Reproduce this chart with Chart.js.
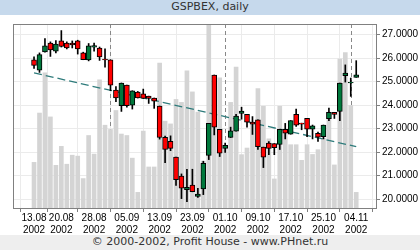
<!DOCTYPE html>
<html>
<head>
<meta charset="utf-8">
<script src="https://cdn.jsdelivr.net/npm/chart.js@4"></script>
<style>
  body { margin: 0; background: #fff; }
  #wrap { width: 420px; height: 250px; position: relative; }
  .band { height: 15px; line-height: 15px; text-align: center; font: 11px 'DejaVu Sans', sans-serif; color: #333; }
  #title { background: #c6d9ec; }
  #footer { background: #eeeeee; }
</style>
</head>
<body>
<div id="wrap">
  <div id="title" class="band">GSPBEX, daily</div>
  <canvas id="candleChart" width="420" height="220"></canvas>
  <div id="footer" class="band">© 2000-2002, Profit House - www.PHnet.ru</div>
</div>
<script>
var dates = ['13.08', '14.08', '15.08', '16.08', '19.08', '20.08', '21.08', '22.08', '23.08', '26.08',
    '27.08', '28.08', '29.08', '30.08', '02.09', '03.09', '04.09', '05.09', '06.09', '09.09',
    '10.09', '11.09', '12.09', '13.09', '16.09', '17.09', '18.09', '19.09', '20.09', '23.09',
    '24.09', '25.09', '26.09', '27.09', '30.09', '01.10', '02.10', '03.10', '04.10', '07.10',
    '08.10', '09.10', '10.10', '11.10', '14.10', '15.10', '16.10', '17.10', '18.10', '21.10',
    '22.10', '23.10', '24.10', '25.10', '28.10', '29.10', '30.10', '31.10', '01.11', '04.11'];

var tickDates = ['13.08', '20.08', '28.08', '05.09', '13.09', '23.09', '01.10', '09.10', '17.10', '25.10', '04.11'];
var monthStarts = ['02.09', '01.10', '01.11'];
var yTicks = [20, 21, 22, 23, 24, 25, 26, 27];

var opens = [25.92, 25.48, 26.26, 26.64, 26.29, 26.73, 26.64, 26.64, 26.73, 26.22,
    25.92, 26.46, 26.43, 25.96, 25.92, 24.64, 23.97, 24.85, 24.00, 24.55,
    24.48, 24.38, 24.30, 23.96, 22.63, 22.46, 21.79, 20.98, 20.40, 20.60,
    20.11, 20.43, 21.86, 25.28, 22.97, 22.16, 22.62, 22.89, 23.64, 23.61,
    23.27, 23.37, 22.21, 22.38, 22.36, 22.33, 22.97, 22.76, 23.61, 23.23,
    23.44, 22.97, 22.80, 22.66, 23.42, 23.69, 23.73, 25.25, 24.94, 25.18];
var highs = [26.05, 26.22, 26.83, 26.69, 26.74, 27.17, 26.69, 26.73, 26.76, 26.25,
    26.62, 26.64, 26.47, 26.39, 25.92, 24.79, 24.94, 24.85, 24.61, 24.58,
    24.68, 24.38, 24.30, 23.96, 22.68, 22.69, 21.79, 21.07, 21.27, 21.27,
    20.46, 21.61, 23.22, 25.28, 22.97, 22.38, 23.06, 23.61, 23.91, 23.61,
    23.51, 23.37, 22.21, 22.45, 22.36, 22.97, 23.22, 23.34, 23.83, 23.23,
    23.44, 23.15, 22.85, 23.15, 23.87, 23.69, 24.94, 25.71, 25.15, 25.89];
var lows = [25.56, 25.39, 26.25, 26.07, 26.22, 26.47, 26.39, 26.43, 26.17, 25.93,
    25.88, 26.29, 25.90, 25.61, 24.61, 24.15, 23.73, 23.91, 23.83, 24.30,
    24.28, 24.07, 23.86, 22.55, 21.55, 22.06, 20.58, 20.02, 19.89, 20.31,
    20.07, 20.19, 21.68, 22.73, 21.81, 21.99, 22.62, 22.89, 23.40, 23.06,
    22.75, 22.11, 21.34, 21.89, 21.89, 22.11, 22.56, 22.76, 23.09, 22.95,
    22.66, 22.56, 22.45, 22.56, 23.34, 23.43, 23.34, 24.98, 24.37, 25.18];
var closes = [25.69, 26.15, 26.52, 26.35, 26.60, 26.50, 26.43, 26.56, 26.39, 25.93,
    26.52, 26.53, 26.05, 25.92, 24.85, 24.30, 24.94, 23.97, 24.61, 24.30,
    24.28, 24.28, 24.17, 22.62, 22.11, 22.16, 20.83, 20.46, 20.50, 20.31,
    20.21, 21.52, 23.22, 23.06, 21.95, 22.29, 22.90, 23.53, 23.74, 23.27,
    23.19, 22.23, 21.78, 22.16, 22.19, 22.97, 22.80, 23.34, 23.14, 23.19,
    22.97, 23.12, 22.63, 23.15, 23.69, 23.60, 24.94, 25.36, 24.97, 25.29];
var volumes = [24.8, 51.6, 73.4, 49.5, 23.2, 33.5, 23.8, 28.7, 28.2, 16.0,
    39.4, 29.3, 69.7, 45.0, 42.7, 53.0, 40.2, 39.4, 27.1, 8.5,
    41.8, 22.3, 22.3, 78.7, 47.2, 45.7, 59.0, 57.4, 74.5, 63.1,
    52.1, 25.5, 115.0, 70.6, 70.7, 32.6, 57.4, 76.6, 29.0, 32.6,
    46.8, 64.9, 55.3, 37.6, 15.8, 55.3, 41.5, 34.4, 34.4, 25.9,
    34.4, 29.1, 31.7, 37.9, 52.1, 23.4, 80.9, 84.4, 55.7, 8.5];

// trend line end points
var trendX = [0, 59];
var trendY = [25.37, 22.23];

var colorUp = '#00783c';
var colorDown = '#ff0000';
var colorVolume = '#d4d4d4';
var colorTrend = '#2e7b7b';

var wickData = [], bodyData = [], bodyColors = [], volumeData = [], trendData = [];
for (var i = 0; i < dates.length; i++) {
    wickData.push({ x: i, y: [lows[i], highs[i]] });
    bodyData.push({ x: i, y: [opens[i], closes[i]] });
    bodyColors.push(closes[i] >= opens[i] ? colorUp : colorDown);
    volumeData.push({ x: i, y: volumes[i] });
}
for (var j = 0; j < trendX.length; j++) {
    trendData.push({ x: trendX[j], y: trendY[j] });
}

var tickIdx = tickDates.map(function (d) { return dates.indexOf(d); });
var monthIdx = monthStarts.map(function (d) { return dates.indexOf(d); });

// frame + month separators
var framePlugin = {
    id: 'frame',
    beforeDatasetsDraw: function (chart) {
        var ctx = chart.ctx, area = chart.chartArea, xs = chart.scales.x;
        ctx.save();
        ctx.strokeStyle = '#888888';
        ctx.lineWidth = 1;
        ctx.setLineDash([4, 3]);
        monthIdx.forEach(function (m) {
            if (m < 0) return;
            var px = Math.round(xs.getPixelForValue(m)) + 0.5;
            ctx.beginPath();
            ctx.moveTo(px, area.top);
            ctx.lineTo(px, area.bottom);
            ctx.stroke();
        });
        ctx.restore();
    },
    afterDatasetsDraw: function (chart) {
        var ctx = chart.ctx, area = chart.chartArea;
        ctx.save();
        ctx.strokeStyle = '#808080';
        ctx.lineWidth = 1;
        ctx.strokeRect(area.left + 0.5, area.top + 0.5, area.right - area.left, area.bottom - area.top);
        ctx.restore();
    }
};

Chart.defaults.font.family = "'Liberation Sans', Arial, sans-serif";
Chart.defaults.color = '#000';

var ctx = document.getElementById('candleChart').getContext('2d');

new Chart(ctx, {
    type: 'bar',
    data: {
        datasets: [{
            label: 'Volume',
            data: volumeData,
            yAxisID: 'yv',
            backgroundColor: colorVolume,
            barThickness: 4,
            grouped: false,
            order: 4
        }, {
            type: 'line',
            label: 'Trend',
            data: trendData,
            borderColor: colorTrend,
            borderWidth: 1.3,
            borderDash: [8, 4],
            pointRadius: 0,
            fill: false,
            order: 3
        }, {
            label: 'Wick',
            data: wickData,
            backgroundColor: '#000',
            barThickness: 1,
            grouped: false,
            order: 2
        }, {
            label: 'Body',
            data: bodyData,
            backgroundColor: bodyColors,
            borderColor: '#000',
            borderWidth: 1,
            borderSkipped: false,
            barThickness: 5,
            grouped: false,
            order: 1
        }]
    },
    options: {
        responsive: false,
        animation: false,
        layout: { padding: { left: 13, top: 9, right: 0, bottom: 0 } },
        plugins: {
            legend: { display: false },
            tooltip: { enabled: false }
        },
        scales: {
            x: {
                type: 'linear',
                min: -0.83,
                max: 59.6,
                afterBuildTicks: function (scale) {
                    scale.ticks = tickIdx.map(function (v) { return { value: v }; });
                },
                afterFit: function (scale) { scale.height = 27; },
                grid: { color: '#ebebeb', tickColor: '#808080', tickLength: 4 },
                border: { color: '#808080' },
                ticks: {
                    autoSkip: false,
                    maxRotation: 0,
                    padding: 0,
                    font: { size: 10 },
                    callback: function (value) { return [dates[value], '2002']; }
                }
            },
            y: {
                position: 'right',
                min: 19.62,
                max: 27.45,
                afterBuildTicks: function (scale) {
                    scale.ticks = yTicks.map(function (v) { return { value: v }; });
                },
                afterFit: function (scale) { scale.width = 44; },
                grid: { color: '#ebebeb', tickColor: '#808080', tickLength: 4 },
                border: { color: '#808080' },
                ticks: {
                    padding: 2,
                    font: { size: 10 },
                    callback: function (value) { return value.toFixed(4); }
                }
            },
            yv: {
                display: false,
                min: 0,
                max: 100
            }
        }
    },
    plugins: [framePlugin]
});
</script>
</body>
</html>
